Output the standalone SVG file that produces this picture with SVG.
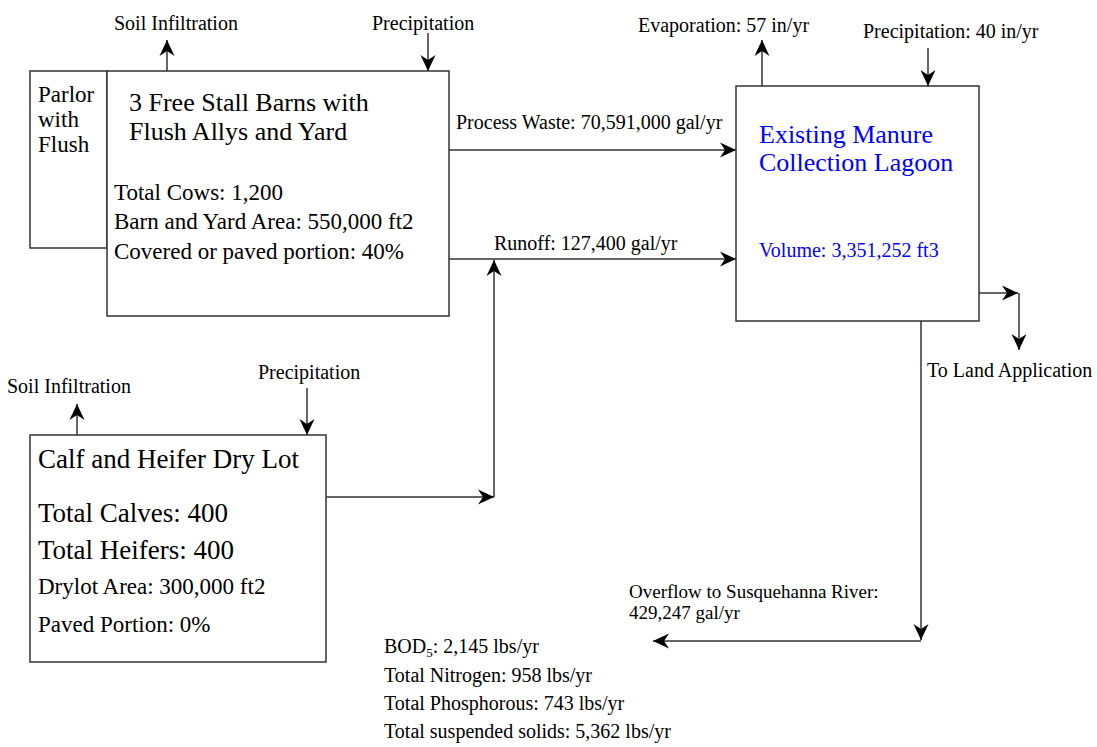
<svg xmlns="http://www.w3.org/2000/svg" width="1097" height="747" viewBox="0 0 1097 747">
<style>
text{font-family:"Liberation Serif","Times New Roman",serif;fill:#000}
.box{fill:#fff;stroke:#333;stroke-width:1.5}
.ln{fill:none;stroke:#333;stroke-width:1.5}
.lbl{font-size:20px}
.sm{font-size:19px}
.big{font-size:27px}
.ttl{font-size:26px}
.mid{font-size:23px}
.blue{fill:#0000ff}
</style>
<defs>
<marker id="ah" viewBox="-16 -8 16 16" refX="0" refY="0" markerWidth="16" markerHeight="16" markerUnits="userSpaceOnUse" orient="auto">
<path d="M0,0 L-16,-7.5 L-11,0 L-16,7.5 Z" fill="#000"/>
</marker>
</defs>
<rect width="1097" height="747" fill="#fff"/>

<g id="connectors">
<line class="ln" x1="167" y1="71" x2="167" y2="40" marker-end="url(#ah)"/>
<line class="ln" x1="428" y1="33" x2="428" y2="71" marker-end="url(#ah)"/>
<line class="ln" x1="762" y1="86" x2="762" y2="40" marker-end="url(#ah)"/>
<line class="ln" x1="928" y1="48" x2="928" y2="86" marker-end="url(#ah)"/>
<line class="ln" x1="449" y1="150" x2="736" y2="150" marker-end="url(#ah)"/>
<line class="ln" x1="449" y1="259" x2="736" y2="259" marker-end="url(#ah)"/>
<line class="ln" x1="326" y1="497" x2="494" y2="497" marker-end="url(#ah)"/>
<line class="ln" x1="494" y1="497" x2="494" y2="260" marker-end="url(#ah)"/>
<line class="ln" x1="979" y1="293" x2="1018" y2="293" marker-end="url(#ah)"/>
<line class="ln" x1="1019" y1="293" x2="1019" y2="350" marker-end="url(#ah)"/>
<line class="ln" x1="921" y1="321" x2="921" y2="640" marker-end="url(#ah)"/>
<line class="ln" x1="921" y1="641" x2="653" y2="641" marker-end="url(#ah)"/>
<line class="ln" x1="77" y1="435" x2="77" y2="404" marker-end="url(#ah)"/>
<line class="ln" x1="307" y1="388" x2="307" y2="435" marker-end="url(#ah)"/>
</g>

<g id="labels">
<text class="lbl" x="114" y="30">Soil Infiltration</text>
<text class="lbl" x="372" y="30">Precipitation</text>
<text class="lbl" x="638" y="32">Evaporation: 57 in/yr</text>
<text class="lbl" x="863" y="38">Precipitation: 40 in/yr</text>
<text class="lbl" x="456" y="129">Process Waste: 70,591,000 gal/yr</text>
<text class="lbl" x="494" y="250">Runoff: 127,400 gal/yr</text>
<text class="lbl" x="927" y="377">To Land Application</text>
<text class="lbl" x="7" y="393">Soil Infiltration</text>
<text class="lbl" x="258" y="379">Precipitation</text>
<text class="sm" x="629" y="598">Overflow to Susquehanna River:</text>
<text class="sm" x="629" y="619">429,247 gal/yr</text>
<text class="lbl" x="384" y="653">BOD<tspan font-size="13" dy="4">5</tspan><tspan dy="-4">: 2,145 lbs/yr</tspan></text>
<text class="lbl" x="384" y="682">Total Nitrogen: 958 lbs/yr</text>
<text class="lbl" x="384" y="710">Total Phosphorous: 743 lbs/yr</text>
<text class="lbl" x="384" y="738">Total suspended solids: 5,362 lbs/yr</text>
</g>

<g id="parlor">
<rect class="box" x="30" y="71" width="77" height="177"/>
<text class="mid" x="38" y="102">Parlor</text>
<text class="mid" x="38" y="127">with</text>
<text class="mid" x="38" y="152">Flush</text>
</g>

<g id="barns">
<rect class="box" x="107" y="71" width="342" height="245"/>
<text class="ttl" x="129" y="111">3 Free Stall Barns with</text>
<text class="ttl" x="129" y="140">Flush Allys and Yard</text>
<text class="mid" x="114" y="200">Total Cows: 1,200</text>
<text class="mid" x="114" y="229">Barn and Yard Area: 550,000 ft2</text>
<text class="mid" x="114" y="259">Covered or paved portion: 40%</text>
</g>

<g id="lagoon">
<rect class="box" x="736" y="86" width="243" height="235"/>
<text class="ttl blue" x="759" y="143">Existing Manure</text>
<text class="ttl blue" x="759" y="171">Collection Lagoon</text>
<text class="lbl blue" x="759" y="257">Volume: 3,351,252 ft3</text>
</g>

<g id="drylot">
<rect class="box" x="30" y="435" width="296" height="227"/>
<text class="big" x="38" y="468">Calf and Heifer Dry Lot</text>
<text class="big" x="38" y="522">Total Calves: 400</text>
<text class="big" x="38" y="559">Total Heifers: 400</text>
<text class="mid" x="38" y="594">Drylot Area: 300,000 ft2</text>
<text class="mid" x="38" y="632">Paved Portion: 0%</text>
</g>
</svg>
